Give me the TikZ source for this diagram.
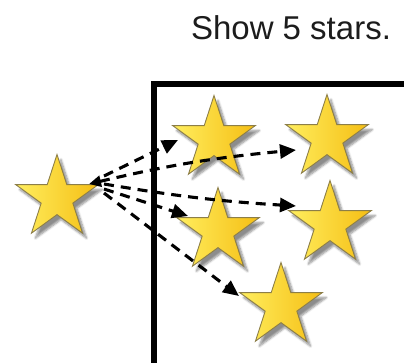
\documentclass[tikz,border=0pt]{standalone}
\usepackage{fontspec}
\setmainfont{Liberation Sans}
\usetikzlibrary{shapes.geometric,arrows.meta,shadows,shadows.blur}
\definecolor{starlight}{HTML}{FFEE5E}
\definecolor{stardark}{HTML}{F5BE14}
\definecolor{starline}{HTML}{8C7E48}
\definecolor{titlecol}{HTML}{1C1C1C}
\tikzset{
  gstar/.style={star, star points=5, star point ratio=2.618, minimum size=87pt,
    inner sep=0pt, left color=starlight, right color=stardark, draw=starline,
    line width=0.9pt, blur shadow={shadow xshift=4pt, shadow yshift=-5pt, shadow blur steps=6, shadow opacity=45}},
  darrow/.style={line width=3.1pt, dash pattern=on 10pt off 7pt,
    -{Triangle[length=16pt,width=14pt]}},
  frame/.style={line width=6pt, line cap=rect}
}
\begin{document}
\begin{tikzpicture}[x=1pt,y=-1pt]
\useasboundingbox (0,0) rectangle (404,362);
\node[text=titlecol, font=\fontsize{33}{38}\selectfont] (title) at (291,28) {Show 5 stars.};
\draw[frame] (154,368) -- (154,84) -- (410,84);
\node[gstar] (src) at (57,198) {};
\node[gstar] (sa) at (214,139) {};
\node[gstar] (sb) at (327,138) {};
\node[gstar] (sc) at (218,231) {};
\node[gstar] (sd) at (330,224) {};
\node[gstar] (se) at (281,306) {};
\coordinate (s1) at (104,176);
\coordinate (s2) at (89,184);
\coordinate (s3) at (104,184);
\coordinate (s4) at (104,189);
\coordinate (s5) at (104,193);
\coordinate (ta) at (178,140);
\coordinate (tb) at (296,150);
\coordinate (td) at (296,206);
\coordinate (tc) at (188,216);
\coordinate (te) at (239,296);
\draw[darrow] (s1) -- (ta);
\draw[darrow, {Triangle[length=12pt,width=11pt]}-{Triangle[length=16pt,width=14pt]}] (s2) to[bend left=4] (tb);
\draw[darrow] (s3) to[bend right=3] (td);
\draw[darrow] (s4) -- (tc);
\draw[darrow] (s5) -- (te);
\end{tikzpicture}
\end{document}
